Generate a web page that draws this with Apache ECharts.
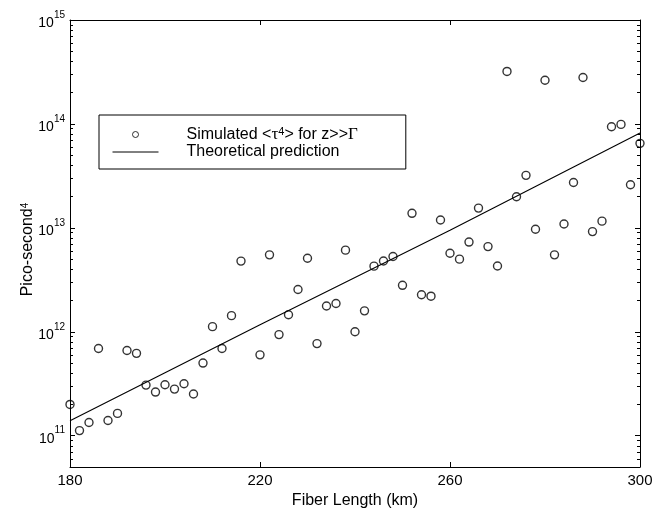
<!DOCTYPE html>
<html>
<head>
<meta charset="utf-8">
<script src="https://cdn.jsdelivr.net/npm/echarts@6/dist/echarts.min.js"></script>
<style>
  html, body { margin: 0; padding: 0; background: #fff; }
  #main { width: 668px; height: 508px; }
</style>
</head>
<body>
<div id="main"></div>
<script>
// fiber length (km) for the simulated points (no point at 218)
var fiberLength = [180, 182, 184, 186, 188, 190, 192, 194, 196, 198,
                   200, 202, 204, 206, 208, 210, 212, 214, 216,
                   220, 222, 224, 226, 228, 230, 232, 234, 236, 238,
                   240, 242, 244, 246, 248, 250, 252, 254, 256, 258,
                   260, 262, 264, 266, 268, 270, 272, 274, 276, 278,
                   280, 282, 284, 286, 288, 290, 292, 294, 296, 298, 300]
// simulated <tau^4>, ps^4
var simulated = [2.0e11, 1.12e11, 1.34e11, 6.9e11, 1.40e11, 1.64e11, 6.6e11, 6.2e11, 3.07e11, 2.63e11,
                 3.09e11, 2.81e11, 3.16e11, 2.52e11, 5.0e11, 1.12e12, 6.9e11, 1.43e12, 4.79e12,
                 6.0e11, 5.5e12, 9.4e11, 1.46e12, 2.55e12, 5.1e12, 7.7e11, 1.77e12, 1.87e12, 6.1e12,
                 1.0e12, 1.59e12, 4.28e12, 4.8e12, 5.3e12, 2.8e12, 1.38e13, 2.27e12, 2.2e12, 1.19e13,
                 5.7e12, 5.0e12, 7.3e12, 1.55e13, 6.6e12, 4.3e12, 3.2e14, 1.99e13, 3.2e13, 9.7e12,
                 2.63e14, 5.5e12, 1.09e13, 2.73e13, 2.8e14, 9.2e12, 1.16e13, 9.4e13, 9.9e13, 2.6e13, 6.5e13]
// theoretical prediction (straight on the log axis)
var theoryLength = [180, 220, 260, 300]
var theoryValue = [1.39e11, 1.17e12, 9.5e12, 8.2e13]

var xTicks = [180, 220, 260, 300]
var yTicks = [1e11, 1e12, 1e13, 1e14, 1e15]
var yMin = 5e10, yMax = 1.000001e15

// minor ticks of the log axis: 2..9 x 10^k
var yMinorTicks = []
for (var k = 10; k <= 14; k++) {
    for (var m = 2; m <= 9; m++) {
        var v = m * Math.pow(10, k)
        if (v > yMin && v < yMax) yMinorTicks.push(v)
    }
}

var FONT = "'Liberation Sans', Arial, Helvetica, sans-serif"
var black = '#000'

var simName = 'Simulated <τ4> for z>>Γ'
var theoName = 'Theoretical prediction'

var simData = fiberLength.map(function (x, i) { return [x, simulated[i]] })
var theoData = theoryLength.map(function (x, i) { return [x, theoryValue[i]] })

function yAxisBase(pos) {
    return {
        type: 'log',
        logBase: 10,
        min: yMin,
        max: yMax,
        position: pos,
        splitLine: { show: false },
        axisLine: { show: true, lineStyle: { color: black, width: 1 } },
        axisTick: { show: true, inside: true, length: 5, customValues: yTicks, lineStyle: { color: black } },
        axisLabel: { show: false }
    }
}

var yLeft = yAxisBase('left')
yLeft.name = 'Pico-second{s|4}'
yLeft.nameLocation = 'middle'
yLeft.nameGap = 34
yLeft.nameMoveOverlap = false
yLeft.nameTextStyle = {
    fontFamily: FONT, fontSize: 16, color: black,
    padding: [0, 12, 0, 0],
    rich: { s: { fontFamily: FONT, fontSize: 10, color: black, verticalAlign: 'top', lineHeight: 10 } }
}
yLeft.axisLabel = {
    show: true,
    customValues: yTicks,
    showMaxLabel: true,
    margin: 5,
    formatter: function (v) {
        var e = Math.round(Math.log10(v))
        return '{b|10}{s|' + e + '}'
    },
    rich: {
        b: { fontFamily: FONT, fontSize: 14, color: black, lineHeight: 20, verticalAlign: 'bottom' },
        s: { fontFamily: FONT, fontSize: 10, color: black, lineHeight: 10, verticalAlign: 'top' }
    }
}

var yLeftMinor = yAxisBase('left')
yLeftMinor.axisLine = { show: false }
yLeftMinor.axisTick = { show: true, inside: true, length: 3, customValues: yMinorTicks, lineStyle: { color: black } }

var yRight = yAxisBase('right')
var yRightMinor = yAxisBase('right')
yRightMinor.axisLine = { show: false }
yRightMinor.axisTick = { show: true, inside: true, length: 3, customValues: yMinorTicks, lineStyle: { color: black } }

var option = {
    animation: false,
    backgroundColor: '#fff',
    grid: { left: 70, right: 28, top: 20, bottom: 41, containLabel: false, outerBoundsMode: 'none' },
    legend: {
        orient: 'vertical',
        left: 99,
        top: 115,
        padding: [11, 48, 9, 13],
        itemGap: 1,
        itemWidth: 46,
        itemHeight: 6,
        borderColor: black,
        borderWidth: 1,
        backgroundColor: '#fff',
        data: [
            { name: simName, itemStyle: { color: 'none', borderColor: black, borderWidth: 1 } },
            { name: theoName, itemStyle: { opacity: 0 }, lineStyle: { color: black, width: 1 } }
        ],
        formatter: function (name) {
            if (name == simName) return 'Simulated <{g|τ}{s|4}> for z>>{g|Γ}'
            return name
        },
        textStyle: {
            fontFamily: FONT, fontSize: 16, color: black,
            padding: [0, 0, 0, 23],
            rich: {
                g: { fontFamily: "'Liberation Serif', 'DejaVu Serif', serif", fontSize: 17, color: black },
                s: { fontFamily: FONT, fontSize: 11, color: black, verticalAlign: 'top', lineHeight: 10 }
            }
        }
    },
    xAxis: [
        {
            type: 'value',
            min: 180,
            max: 300,
            position: 'bottom',
            name: 'Fiber Length (km)',
            nameLocation: 'middle',
            nameGap: 23,
            nameTextStyle: { fontFamily: FONT, fontSize: 16, color: black },
            splitLine: { show: false },
            axisLine: { lineStyle: { color: black, width: 1 } },
            axisTick: { inside: true, length: 5, customValues: xTicks, lineStyle: { color: black } },
            axisLabel: { customValues: xTicks, margin: 6, fontFamily: FONT, fontSize: 15, color: black }
        },
        {
            type: 'value',
            min: 180,
            max: 300,
            position: 'top',
            splitLine: { show: false },
            axisLine: { lineStyle: { color: black, width: 1 } },
            axisTick: { inside: true, length: 5, customValues: xTicks, lineStyle: { color: black } },
            axisLabel: { show: false }
        }
    ],
    yAxis: [yLeft, yLeftMinor, yRight, yRightMinor],
    series: [
        {
            name: simName,
            type: 'scatter',
            xAxisIndex: 0,
            yAxisIndex: 0,
            symbol: 'circle',
            symbolSize: 8,
            itemStyle: { color: 'none', borderColor: black, borderWidth: 1.4 },
            data: simData,
            z: 3
        },
        {
            name: theoName,
            type: 'line',
            xAxisIndex: 0,
            yAxisIndex: 0,
            symbol: 'none',
            showSymbol: false,
            lineStyle: { color: black, width: 1.1 },
            itemStyle: { color: black },
            data: theoData,
            z: 2
        }
    ]
}

var chart = echarts.init(document.getElementById('main'))
chart.setOption(option)
</script>
</body>
</html>
